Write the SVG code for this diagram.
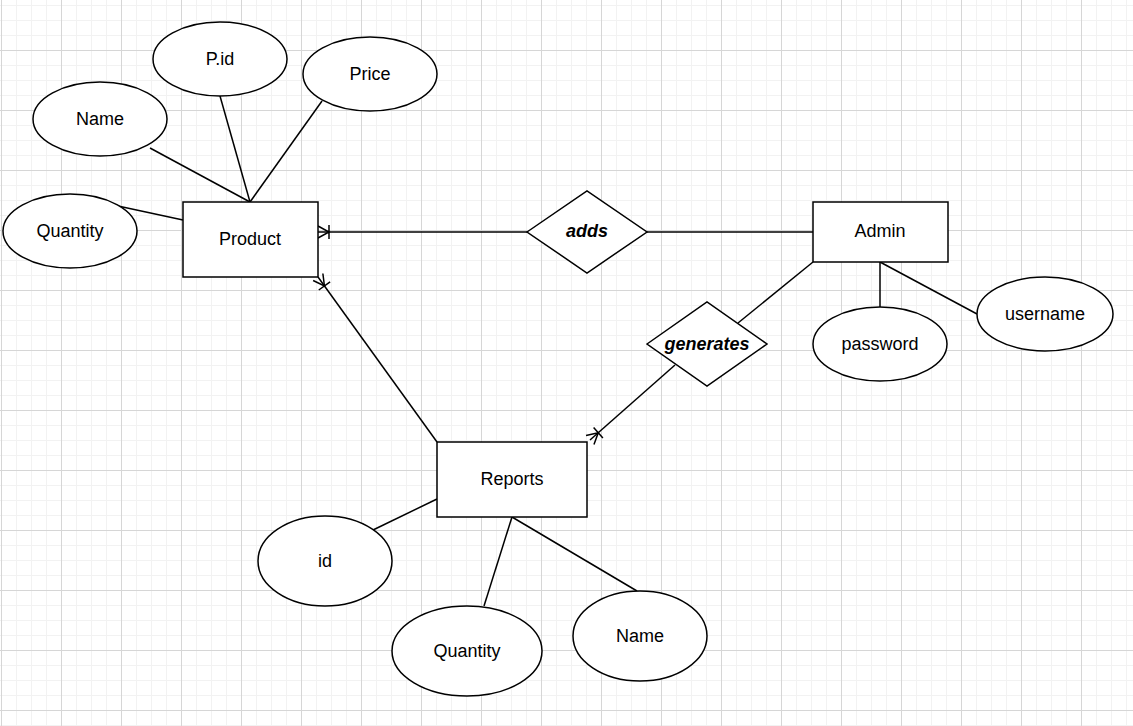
<svg xmlns="http://www.w3.org/2000/svg" width="1133" height="726" viewBox="0 0 1133 726">
<style>
.sh{fill:#ffffff;stroke:#000000;stroke-width:1.5}
.ln{fill:none;stroke:#000000;stroke-width:1.5}
.t{font-family:"Liberation Sans",Arial,sans-serif;font-size:18px;fill:#000000;text-anchor:middle}
.r{font-weight:bold;font-style:italic}
</style>
<defs>
<pattern id="minor" patternUnits="userSpaceOnUse" x="1" y="5" width="15" height="15">
<rect x="0" y="0" width="1" height="15" fill="#f2f2f2"/>
<rect x="0" y="0" width="15" height="1" fill="#f2f2f2"/>
</pattern>
<pattern id="major" patternUnits="userSpaceOnUse" x="1" y="-10" width="60" height="60">
<rect x="0" y="0" width="1" height="60" fill="#d6d6d6"/>
<rect x="0" y="0" width="60" height="1" fill="#d6d6d6"/>
</pattern>
<marker id="crow" markerUnits="userSpaceOnUse" markerWidth="30" markerHeight="30" viewBox="-15 -15 30 30" refX="0" refY="0" orient="auto" overflow="visible">
<path d="M0,-6 L-11,0 L0,6 M-11,-7 L-11,7" fill="none" stroke="#000000" stroke-width="1.5"/>
</marker>
</defs>
<rect width="1133" height="726" fill="#ffffff"/>
<rect width="1133" height="726" fill="url(#minor)"/>
<rect width="1133" height="726" fill="url(#major)"/>
<g id="connectors">
<line class="ln" x1="150" y1="148" x2="250" y2="202"/>
<line class="ln" x1="220" y1="96" x2="250" y2="202"/>
<line class="ln" x1="322" y1="101" x2="250" y2="202"/>
<line class="ln" x1="118" y1="206" x2="183" y2="220"/>
<line class="ln" x1="527" y1="232" x2="318" y2="232" marker-end="url(#crow)"/>
<line class="ln" x1="647" y1="232" x2="813" y2="232"/>
<line class="ln" x1="437" y1="442" x2="318" y2="277" marker-end="url(#crow)"/>
<line class="ln" x1="813" y1="262" x2="738" y2="323"/>
<line class="ln" x1="675" y1="365" x2="590" y2="440" marker-end="url(#crow)"/>
<line class="ln" x1="880" y1="262" x2="880" y2="307"/>
<line class="ln" x1="880" y1="262" x2="977" y2="314"/>
<line class="ln" x1="437" y1="499" x2="373" y2="530"/>
<line class="ln" x1="512" y1="517" x2="484" y2="606"/>
<line class="ln" x1="512" y1="517" x2="637" y2="591"/>
</g>
<g id="pid"><ellipse class="sh" cx="220" cy="59" rx="67" ry="37"/><text class="t" x="220" y="65">P.id</text></g>
<g id="price"><ellipse class="sh" cx="370" cy="74" rx="67" ry="37"/><text class="t" x="370" y="80">Price</text></g>
<g id="name1"><ellipse class="sh" cx="100" cy="119" rx="67" ry="37"/><text class="t" x="100" y="125">Name</text></g>
<g id="quantity1"><ellipse class="sh" cx="70" cy="231" rx="67" ry="37"/><text class="t" x="70" y="237">Quantity</text></g>
<g id="product"><rect class="sh" x="183" y="202" width="135" height="75"/><text class="t" x="250" y="245">Product</text></g>
<g id="adds"><path class="sh" d="M527,232 L587,191 L647,232 L587,273 Z"/><text class="t r" x="587" y="237">adds</text></g>
<g id="admin"><rect class="sh" x="813" y="202" width="135" height="60"/><text class="t" x="880" y="237">Admin</text></g>
<g id="generates"><path class="sh" d="M647,344 L707,302 L767,344 L707,386 Z"/><text class="t r" x="707" y="350">generates</text></g>
<g id="password"><ellipse class="sh" cx="880" cy="344" rx="67" ry="37"/><text class="t" x="880" y="350">password</text></g>
<g id="username"><ellipse class="sh" cx="1045" cy="314" rx="68" ry="37"/><text class="t" x="1045" y="320">username</text></g>
<g id="reports"><rect class="sh" x="437" y="442" width="150" height="75"/><text class="t" x="512" y="485">Reports</text></g>
<g id="id"><ellipse class="sh" cx="325" cy="561" rx="67" ry="45"/><text class="t" x="325" y="567">id</text></g>
<g id="quantity2"><ellipse class="sh" cx="467" cy="651" rx="75" ry="45"/><text class="t" x="467" y="657">Quantity</text></g>
<g id="name2"><ellipse class="sh" cx="640" cy="636" rx="67" ry="45"/><text class="t" x="640" y="642">Name</text></g>
</svg>
